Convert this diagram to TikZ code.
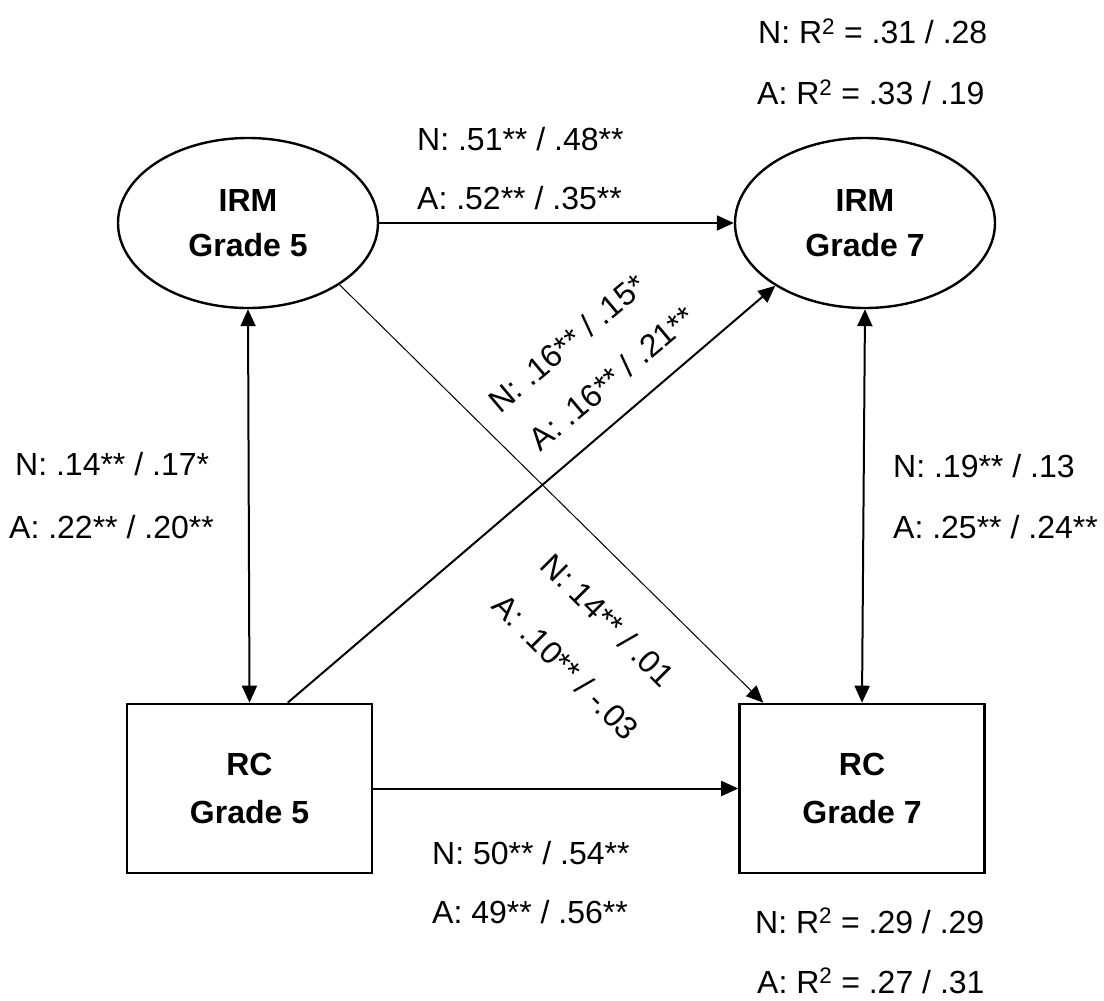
\documentclass[tikz,border=0pt]{standalone}
\usepackage{fontspec}
\setmainfont{Liberation Sans}
\usetikzlibrary{shapes.geometric,arrows.meta}
\begin{document}
\begin{tikzpicture}[x=1pt,y=-1pt,
  every node/.style={font=\fontsize{32}{38}\selectfont},
  latent/.style={ellipse, draw, line width=2.4pt, inner sep=0pt,
    minimum width=260pt, minimum height=170pt, align=center,
    font=\fontsize{32}{45}\selectfont\bfseries},
  observed/.style={rectangle, draw, line width=2.6pt, inner sep=0pt,
    minimum width=245pt, minimum height=169pt, align=center,
    font=\fontsize{32}{48}\selectfont\bfseries},
  tip/.tip={Triangle[length=17pt,width=15pt]},
  conn/.style={line width=2pt, -tip},
  twoway/.style={line width=2pt, tip-tip},
  thinconn/.style={line width=1pt, -tip},
  coef/.style={anchor=base west, inner sep=0pt},
  slant/.style={inner sep=0pt}
]
\useasboundingbox (0,0) rectangle (1104,1001);

% constructs
\node[latent]   (irm5) at (248,223) {IRM\\Grade 5};
\node[latent]   (irm7) at (865,223) {IRM\\Grade 7};
\node[observed] (rc5)  at (249.5,788.5) {RC\\Grade 5};
\node[observed] (rc7)  at (862,788.5) {RC\\Grade 7};

% paths
\draw[conn]     (irm5.east) -- (irm7.west);
\draw[conn]     (rc5.east) -- (rc7.west);
\draw[twoway]   (irm5.south) -- (rc5.north);
\draw[twoway]   (irm7.south) -- (rc7.north);
\draw[conn]     (rc5.66.6) -- (irm7.215.6);
\draw[thinconn] (irm5.-34) -- (rc7.139);

% explained variance
\node[coef] (r2irmN) at (758,43.5) {N: R\textsuperscript{2} = .31 / .28};
\node[coef] (r2irmA) at (757,104.5) {A: R\textsuperscript{2} = .33 / .19};
\node[coef] (r2rcN)  at (755,933) {N: R\textsuperscript{2} = .29 / .29};
\node[coef] (r2rcA)  at (757,993) {A: R\textsuperscript{2} = .27 / .31};

% path coefficients
\node[coef] (irmN) at (417,150) {N: .51** / .48**};
\node[coef] (irmA) at (417,209) {A: .52** / .35**};
\node[coef] (c5N)  at (15,475) {N: .14** / .17*};
\node[coef] (c5A)  at (9,538) {A: .22** / .20**};
\node[coef] (c7N)  at (893,477) {N: .19** / .13};
\node[coef] (c7A)  at (893,538) {A: .25** / .24**};
\node[coef] (rcN)  at (432,864) {N: 50** / .54**};
\node[coef] (rcA)  at (432,923) {A: 49** / .56**};

% cross-lagged coefficients
\node[slant, rotate=40]  (xN1) at (567,343) {N: .16** / .15*};
\node[slant, rotate=40]  (xA1) at (612,378) {A: .16** / .21**};
\node[slant, rotate=-45] (xN2) at (608,620) {N: 14** / .01};
\node[slant, rotate=-45] (xA2) at (566,667) {A: .10** / -.03};
\end{tikzpicture}
\end{document}
